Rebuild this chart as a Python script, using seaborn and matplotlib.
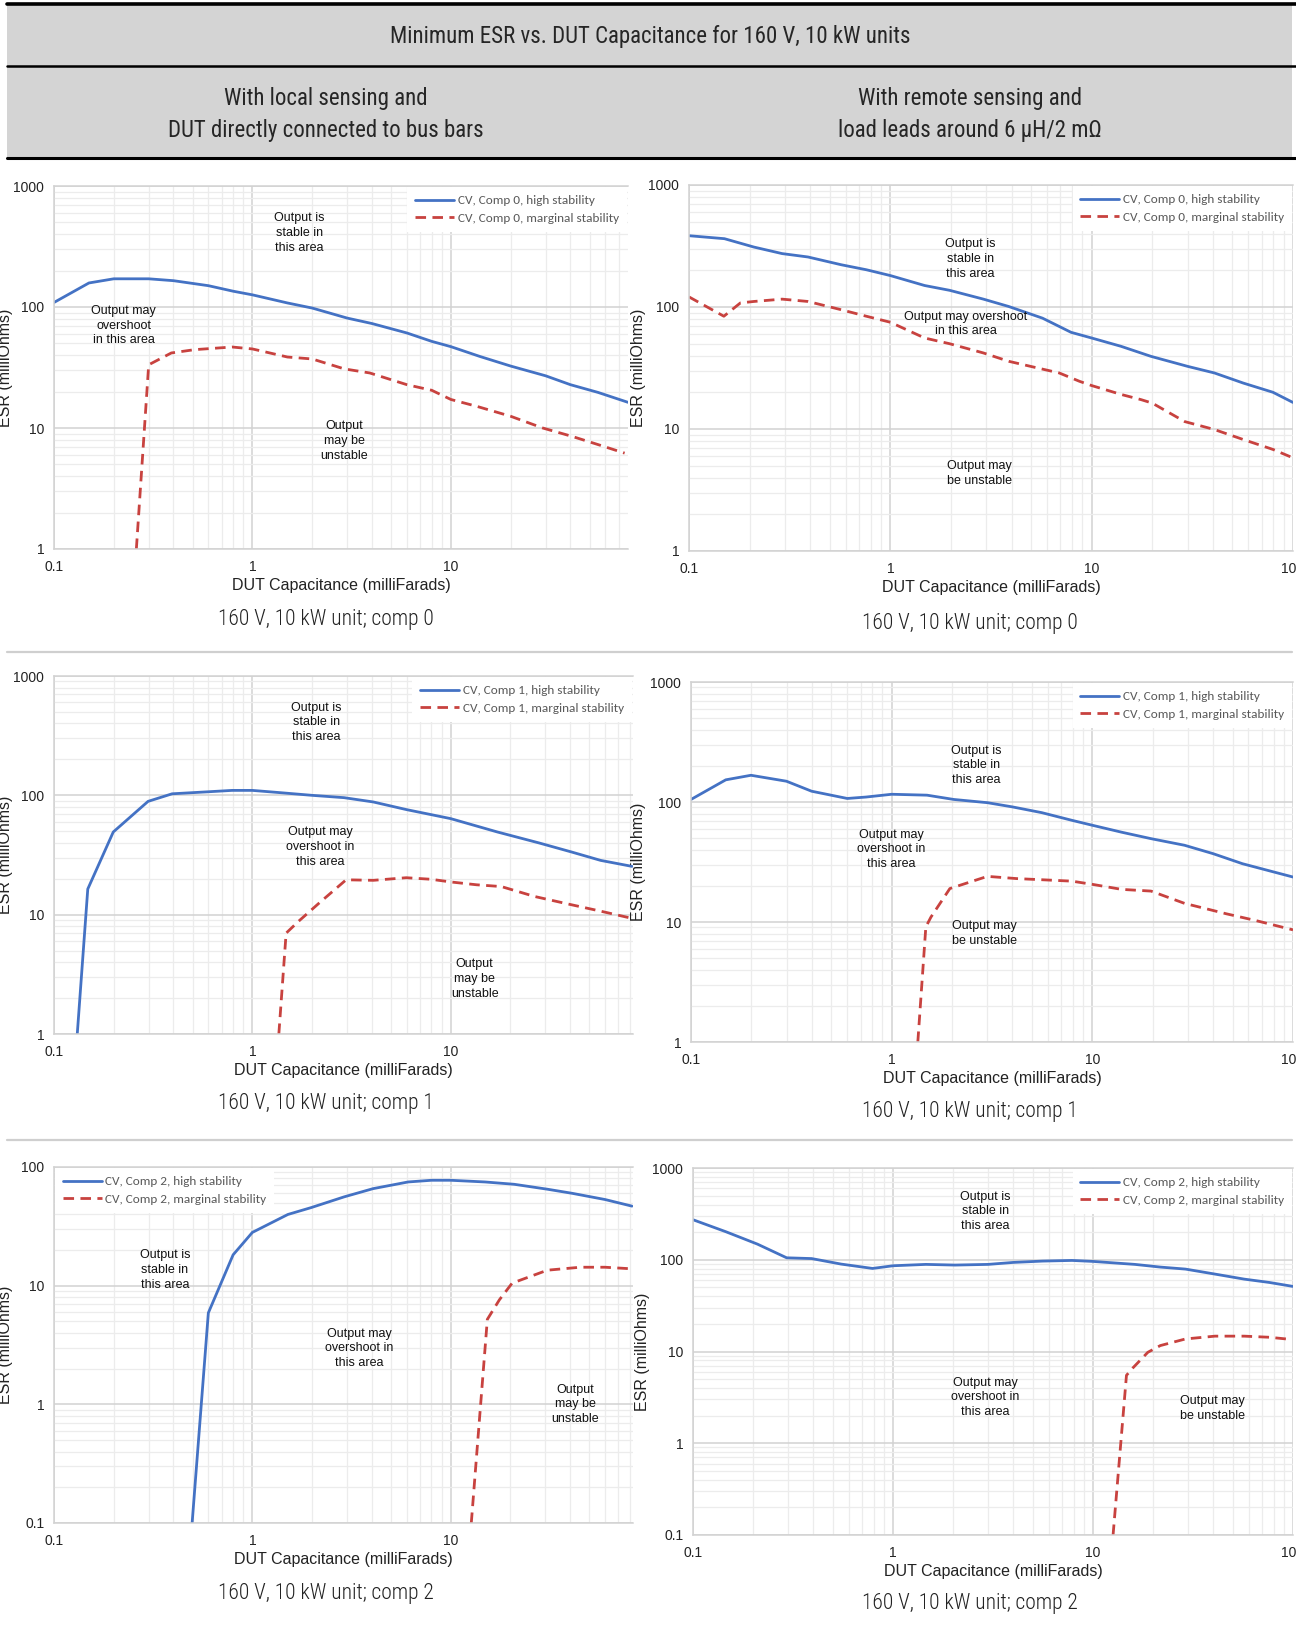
import seaborn as sns
import matplotlib.pyplot as plt
from matplotlib.ticker import FixedLocator, FixedFormatter, LogLocator, NullFormatter
from matplotlib.patches import Rectangle
from matplotlib.lines import Line2D

# ---- values (x: capacitance mF, y: ESR mOhm) ----
# local sensing, comp 0
loc0_hi_x = [0.1, 0.15, 0.2, 0.3, 0.4, 0.6, 0.8, 1, 1.5, 2, 3, 4, 6, 8, 10, 14, 20, 30, 40, 55, 78]
loc0_hi_y = [109, 158, 171, 171, 165, 150, 135, 126, 108, 98, 81, 73, 61, 52, 47, 39, 32.5, 27, 22.8, 19.7, 16.3]
loc0_mg_x = [0.26, 0.30, 0.39, 0.51, 0.79, 1, 1.5, 2, 2.9, 3.9, 6, 8, 10, 13.5, 20, 29, 41, 55, 75]
loc0_mg_y = [1, 33.3, 41.7, 44.4, 46.7, 45, 38.6, 37.2, 30.8, 28.5, 22.8, 20.5, 17.2, 15.1, 12.5, 10, 8.5, 7.3, 6.2]

# remote sensing, comp 0
rem0_hi_x = [0.1, 0.15, 0.21, 0.29, 0.39, 0.57, 0.76, 1, 1.48, 1.97, 2.9, 3.87, 5.7, 7.9, 10, 14, 19.7, 30, 40.7, 56.6, 79.5, 100]
rem0_hi_y = [384, 363, 310, 274, 257, 222, 202, 181, 150, 137, 116, 101, 81, 62, 55.7, 47.6, 39.4, 32.6, 28.8, 23.8, 20, 16.5]
rem0_mg_x = [0.1, 0.149, 0.18, 0.21, 0.29, 0.39, 0.57, 0.76, 1, 1.48, 1.97, 2.9, 3.87, 5.4, 6.9, 8.7, 10, 14, 17.6, 20, 29, 40.7, 56.6, 79.5, 100]
rem0_mg_y = [121, 84, 108, 111, 116, 111, 95, 84, 75, 55.7, 50, 42, 35.9, 31.6, 28.8, 24.6, 22.7, 19.2, 17.4, 16.3, 11.5, 9.9, 8.2, 6.8, 5.8]

# local sensing, comp 1
loc1_hi_x = [0.131, 0.148, 0.199, 0.298, 0.394, 0.593, 0.79, 1, 1.41, 2, 2.9, 4.07, 5.97, 10, 17.2, 27.9, 40.7, 57, 82]
loc1_hi_y = [1, 16.4, 49.3, 89, 103, 107, 110, 110, 105, 100, 95.6, 88, 76, 63.8, 49.3, 39.9, 33.5, 28.5, 25.4]
loc1_mg_x = [1.36, 1.48, 1.71, 2.17, 2.97, 4.07, 5.97, 7.95, 10, 13.5, 18, 26.5, 40.7, 57, 80]
loc1_mg_y = [1, 7.0, 8.8, 12.5, 19.6, 19.4, 20.4, 19.8, 18.8, 17.8, 17.2, 14.2, 12.1, 10.7, 9.4]

# remote sensing, comp 1
rem1_hi_x = [0.1, 0.149, 0.199, 0.299, 0.399, 0.601, 0.746, 1, 1.5, 2.04, 3.0, 4.0, 5.6, 7.9, 10, 14, 19.6, 28.8, 40, 56, 75, 100]
rem1_hi_y = [105, 153, 167, 149, 123, 107, 110, 116, 114, 105, 98.7, 91, 81.5, 70.4, 64, 56, 49.5, 43.6, 37.1, 30.6, 26.9, 23.7]
rem1_mg_x = [1.35, 1.48, 1.57, 1.95, 3.0, 4.2, 5.6, 7.9, 10, 14, 19.6, 28.8, 46.6, 65, 100]
rem1_mg_y = [1, 9.1, 11, 19, 24, 23, 22.5, 21.9, 20.6, 18.7, 18.1, 14.3, 11.7, 10.3, 8.6]

# local sensing, comp 2
loc2_hi_x = [0.497, 0.6, 0.8, 1, 1.51, 1.98, 2.9, 4.06, 6.1, 8, 10, 14.9, 20.9, 30.7, 41, 60, 82]
loc2_hi_y = [0.1, 5.9, 18.2, 28.1, 39.8, 45.5, 56, 65.7, 74.8, 77.3, 77.3, 74.8, 71.5, 65, 60, 53.2, 46.8]
loc2_mg_x = [12.7, 15.3, 17.6, 20.4, 30.7, 45, 60, 80]
loc2_mg_y = [0.1, 5.2, 7.6, 10.5, 13.5, 14.3, 14.3, 13.9]

# remote sensing, comp 2
rem2_hi_x = [0.1, 0.146, 0.21, 0.294, 0.392, 0.55, 0.79, 1, 1.46, 2.04, 2.99, 3.99, 5.6, 7.85, 10, 16.2, 21.7, 29, 40.7, 57, 76, 100]
rem2_hi_y = [273, 202, 148, 105, 103, 89.7, 80.4, 86, 89, 87.5, 89, 93.5, 96.7, 98.3, 95.9, 89, 83.2, 79.1, 69.8, 61.5, 56.6, 51.2]
rem2_mg_x = [12.6, 14.7, 15.8, 18.8, 21.7, 29, 40.7, 57, 76, 92.5]
rem2_mg_y = [0.1, 5.5, 6.6, 9.8, 11.6, 13.7, 14.7, 14.7, 14.3, 13.7]

x_ticks = [0.1, 1, 10, 100]
x_tick_labels = ["0.1", "1", "10", "100"]
y_ticks = [0.1, 1, 10, 100, 1000]
y_tick_labels = ["0.1", "1", "10", "100", "1000"]

title = "Minimum ESR vs. DUT Capacitance for 160 V, 10 kW units"
col_heads = ["With local sensing and\nDUT directly connected to bus bars",
             "With remote sensing and\nload leads around 6 \u00b5H/2 m\u03a9"]

BLUE = "#4472C4"
RED = "#C8423F"
W, H = 1296, 1629

sns.set_style("white")
plt.rcParams["font.family"] = ["Liberation Sans", "DejaVu Sans"]
COND = ["Roboto Condensed", "Liberation Sans", "DejaVu Sans"]
CALI = ["Carlito", "Lato", "DejaVu Sans"]

fig = plt.figure(figsize=(W / 100, H / 100), dpi=100)


def fx(px):
    return px / W


def fy(py):
    return 1 - py / H


# header block
fig.patches.append(Rectangle((fx(7), fy(158)), fx(1292) - fx(7), fy(5) - fy(158),
                             transform=fig.transFigure, facecolor="#d4d4d4", edgecolor="none", zorder=0))
for yy, lw in [(4, 2.6), (66, 1.8), (158, 2.2)]:
    fig.lines.append(Line2D([fx(7), fx(1296)], [fy(yy), fy(yy)], transform=fig.transFigure,
                            color="black", lw=lw))
fig.text(fx(650), fy(37), title, ha="center", va="center", fontsize=16.5, family=COND)
fig.text(fx(326), fy(114), col_heads[0], ha="center", va="center", fontsize=16.5,
         family=COND, linespacing=1.5)
fig.text(fx(970), fy(114), col_heads[1], ha="center", va="center", fontsize=16.5,
         family=COND, linespacing=1.5)

# light separators between rows
for yy in [652, 1140]:
    fig.lines.append(Line2D([fx(7), fx(1292)], [fy(yy), fy(yy)], transform=fig.transFigure,
                            color="#cfcfcf", lw=1.6))

panels = [
    dict(box=(54, 628, 186, 549), xlim=(0.1, 78), ylim=(1, 1000), comp=0, ylab=13,
         hi=(loc0_hi_x, loc0_hi_y), mg=(loc0_mg_x, loc0_mg_y), leg="upper right", cap=(326, 619),
         notes=[(1.73, 410, "Output is\nstable in\nthis area"),
                (0.224, 70, "Output may\novershoot\nin this area"),
                (2.9, 7.8, "Output\nmay be\nunstable")]),
    dict(box=(689, 1293, 185, 551), xlim=(0.1, 100), ylim=(1, 1000), comp=0, ylab=646,
         hi=(rem0_hi_x, rem0_hi_y), mg=(rem0_mg_x, rem0_mg_y), leg="upper right", cap=(970, 624),
         notes=[(2.5, 247, "Output is\nstable in\nthis area"),
                (2.37, 72.6, "Output may overshoot\nin this area"),
                (2.76, 4.3, "Output may\nbe unstable")]),
    dict(box=(54, 633, 676, 1034), xlim=(0.1, 83), ylim=(1, 1000), comp=1, ylab=13,
         hi=(loc1_hi_x, loc1_hi_y), mg=(loc1_mg_x, loc1_mg_y), leg="upper right", cap=(326, 1103),
         notes=[(2.1, 409, "Output is\nstable in\nthis area"),
                (2.2, 37, "Output may\novershoot in\nthis area"),
                (13.2, 2.9, "Output\nmay be\nunstable")]),
    dict(box=(691, 1293, 682, 1042), xlim=(0.1, 100), ylim=(1, 1000), comp=1, ylab=646,
         hi=(rem1_hi_x, rem1_hi_y), mg=(rem1_mg_x, rem1_mg_y), leg="upper right", cap=(970, 1111),
         notes=[(2.64, 202, "Output is\nstable in\nthis area"),
                (1.0, 40.3, "Output may\novershoot in\nthis area"),
                (2.9, 8.0, "Output may\nbe unstable")]),
    dict(box=(54, 633, 1167, 1523), xlim=(0.1, 83), ylim=(0.1, 100), comp=2, ylab=13,
         hi=(loc2_hi_x, loc2_hi_y), mg=(loc2_mg_x, loc2_mg_y), leg="upper left", cap=(326, 1593),
         notes=[(0.363, 13.6, "Output is\nstable in\nthis area"),
                (3.47, 2.96, "Output may\novershoot in\nthis area"),
                (42.6, 1.0, "Output\nmay be\nunstable")]),
    dict(box=(693, 1293, 1168, 1535), xlim=(0.1, 100), ylim=(0.1, 1000), comp=2, ylab=650,
         hi=(rem2_hi_x, rem2_hi_y), mg=(rem2_mg_x, rem2_mg_y), leg="upper right", cap=(970, 1604),
         notes=[(2.89, 337, "Output is\nstable in\nthis area"),
                (2.89, 3.17, "Output may\novershoot in\nthis area"),
                (39.6, 2.4, "Output may\nbe unstable")]),
]

for p in panels:
    l, r, t, b = p["box"]
    ax = fig.add_axes([fx(l), fy(b), fx(r) - fx(l), fy(t) - fy(b)])
    ax.set_xscale("log")
    ax.set_yscale("log")
    c = p["comp"]
    sns.lineplot(x=p["hi"][0], y=p["hi"][1], ax=ax, color=BLUE, lw=2.0, sort=False,
                 estimator=None, label=f"CV, Comp {c}, high stability")
    sns.lineplot(x=p["mg"][0], y=p["mg"][1], ax=ax, color=RED, lw=2.0, sort=False,
                 estimator=None, linestyle=(0, (3.8, 2.3)),
                 label=f"CV, Comp {c}, marginal stability")

    ax.xaxis.set_major_locator(FixedLocator(x_ticks))
    ax.xaxis.set_major_formatter(FixedFormatter(x_tick_labels))
    ax.yaxis.set_major_locator(FixedLocator(y_ticks))
    ax.yaxis.set_major_formatter(FixedFormatter(y_tick_labels))
    for axis in (ax.xaxis, ax.yaxis):
        axis.set_minor_locator(LogLocator(base=10, subs=range(2, 10), numticks=20))
        axis.set_minor_formatter(NullFormatter())
    ax.set_xlim(*p["xlim"])
    ax.set_ylim(*p["ylim"])
    ax.set_axisbelow(True)
    ax.grid(True, which="major", color="#d2d2d2", lw=1.1)
    ax.grid(True, which="minor", color="#ececec", lw=0.9)
    ax.tick_params(which="both", length=0, labelsize=10, labelcolor="#222222")
    ax.tick_params(axis="x", pad=8)
    ax.tick_params(axis="y", pad=7)
    for s in ["left", "bottom", "top"]:
        ax.spines[s].set_color("#d2d2d2")
        ax.spines[s].set_linewidth(1.1)
    ax.spines["right"].set_visible(False)

    ax.set_xlabel("DUT Capacitance (milliFarads)", fontsize=11.5, color="#222222")
    ax.xaxis.set_label_coords(0.5, -29 / (b - t))
    ax.set_ylabel("ESR (milliOhms)", fontsize=11.5, color="#222222")
    ax.yaxis.set_label_coords((p["ylab"] - l) / (r - l), 0.5)

    for nx, ny, txt in p["notes"]:
        ax.text(nx, ny, txt, ha="center", va="center", fontsize=9, linespacing=1.3,
                color="#111111")

    leg = ax.legend(loc=p["leg"], frameon=True, facecolor="white", edgecolor="none",
                    framealpha=1, handlelength=2.9, labelcolor="#595959",
                    borderaxespad=0.3, handletextpad=0.3, labelspacing=0.45,
                    prop={"family": CALI, "size": 9.5})
    leg.get_frame().set_boxstyle("square", pad=0.2)

    fig.text(fx(p["cap"][0]), fy(p["cap"][1]), f"160 V, 10 kW unit; comp {c}",
             ha="center", va="center", fontsize=15.5, family=COND, fontweight=300,
             color="#222222")

fig.savefig("out.png", dpi=100)
